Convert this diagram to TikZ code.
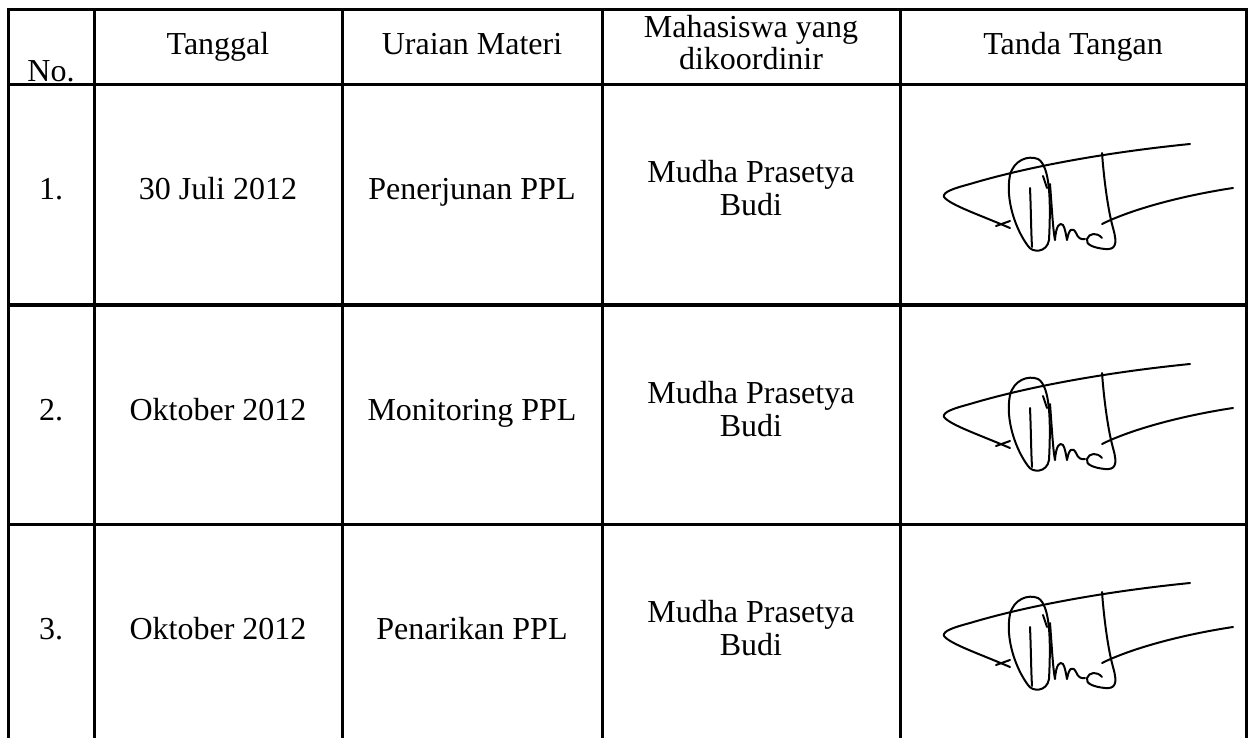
\documentclass[tikz,border=0pt]{standalone}
\usepackage{fontspec}
\setmainfont{Liberation Serif}
\begin{document}
\begin{tikzpicture}[x=1pt,y=-1pt,
  grid/.style={line width=3pt},
  txt/.style={font=\fontsize{32}{36}\selectfont, align=center, inner sep=0pt, anchor=base},
  sig/.style={line width=2pt, line cap=round, line join=round},
  signature/.pic={
    \draw[sig] (80,128) .. controls (50,115) and (20,105) .. (14,97) .. controls (12,92) and (25,88) .. (40,84) .. controls (100,66) and (180,52) .. (260,44);
    \draw[sig] (66,126) -- (80,121);
    \draw[sig] (80,75) .. controls (84,60) and (98,55) .. (108,59) .. controls (120,66) and (121,100) .. (119,140) .. controls (117,153) and (102,153) .. (98,146) .. controls (86,130) and (75,100) .. (80,75);
    \draw[sig] (100,88) .. controls (101,110) and (101,130) .. (102,147);
    \draw[sig] (113,76) -- (117,88);
    \draw[sig] (120,84) .. controls (122,110) and (123,130) .. (125,140) .. controls (126,125) and (130,122) .. (133,125) .. controls (135,128) and (136,135) .. (137,140) .. controls (139,128) and (143,127) .. (146,133) .. controls (148,138) and (151,140) .. (155,139);
    \draw[sig] (172,53) .. controls (174,80) and (178,110) .. (183,128) .. controls (188,145) and (185,150) .. (175,149) .. controls (165,148) and (155,145) .. (157,139) .. controls (159,133) and (167,132) .. (172,138);
    \draw[sig] (172,124) .. controls (200,110) and (250,96) .. (303,88);
  }]
\useasboundingbox (0,0) rectangle (1251,738);
\fill[white] (0,0) rectangle (1251,738);
% grid
\draw[grid] (8,738) -- (8,10) -- (1246,10) -- (1246,738);
\foreach \x in {94,342,602,900} \draw[grid] (\x,10) -- (\x,738);
\foreach \y in {85,305,524} \draw[grid] (8,\y) -- (1246,\y);
% header
\node[txt] (hNo) at (51,82) {No.};
\node[txt] (hTgl) at (218,55) {Tanggal};
\node[txt] (hUra) at (472,55) {Uraian Materi};
\node[txt] (hMhs1) at (751,38) {Mahasiswa yang};
\node[txt] (hMhs2) at (751,70) {dikoordinir};
\node[txt] (hTtd) at (1073,55) {Tanda Tangan};
% rows
\foreach \r/\off/\n/\d/\u in {1/85/1./30 Juli 2012/Penerjunan PPL, 2/305/2./Oktober 2012/Monitoring PPL, 3/524/3./Oktober 2012/Penarikan PPL}{
  \node[txt] (no\r) at (51,\off+115) {\n};
  \node[txt] (tgl\r) at (218,\off+115) {\d};
  \node[txt] (ura\r) at (472,\off+115) {\u};
  \node[txt] (mhsA\r) at (751,\off+98) {Mudha Prasetya};
  \node[txt] (mhsB\r) at (751,\off+131) {Budi};
}
\pic at (930,100) {signature};
\pic at (930,320) {signature};
\pic at (930,539) {signature};
\end{tikzpicture}
\end{document}
